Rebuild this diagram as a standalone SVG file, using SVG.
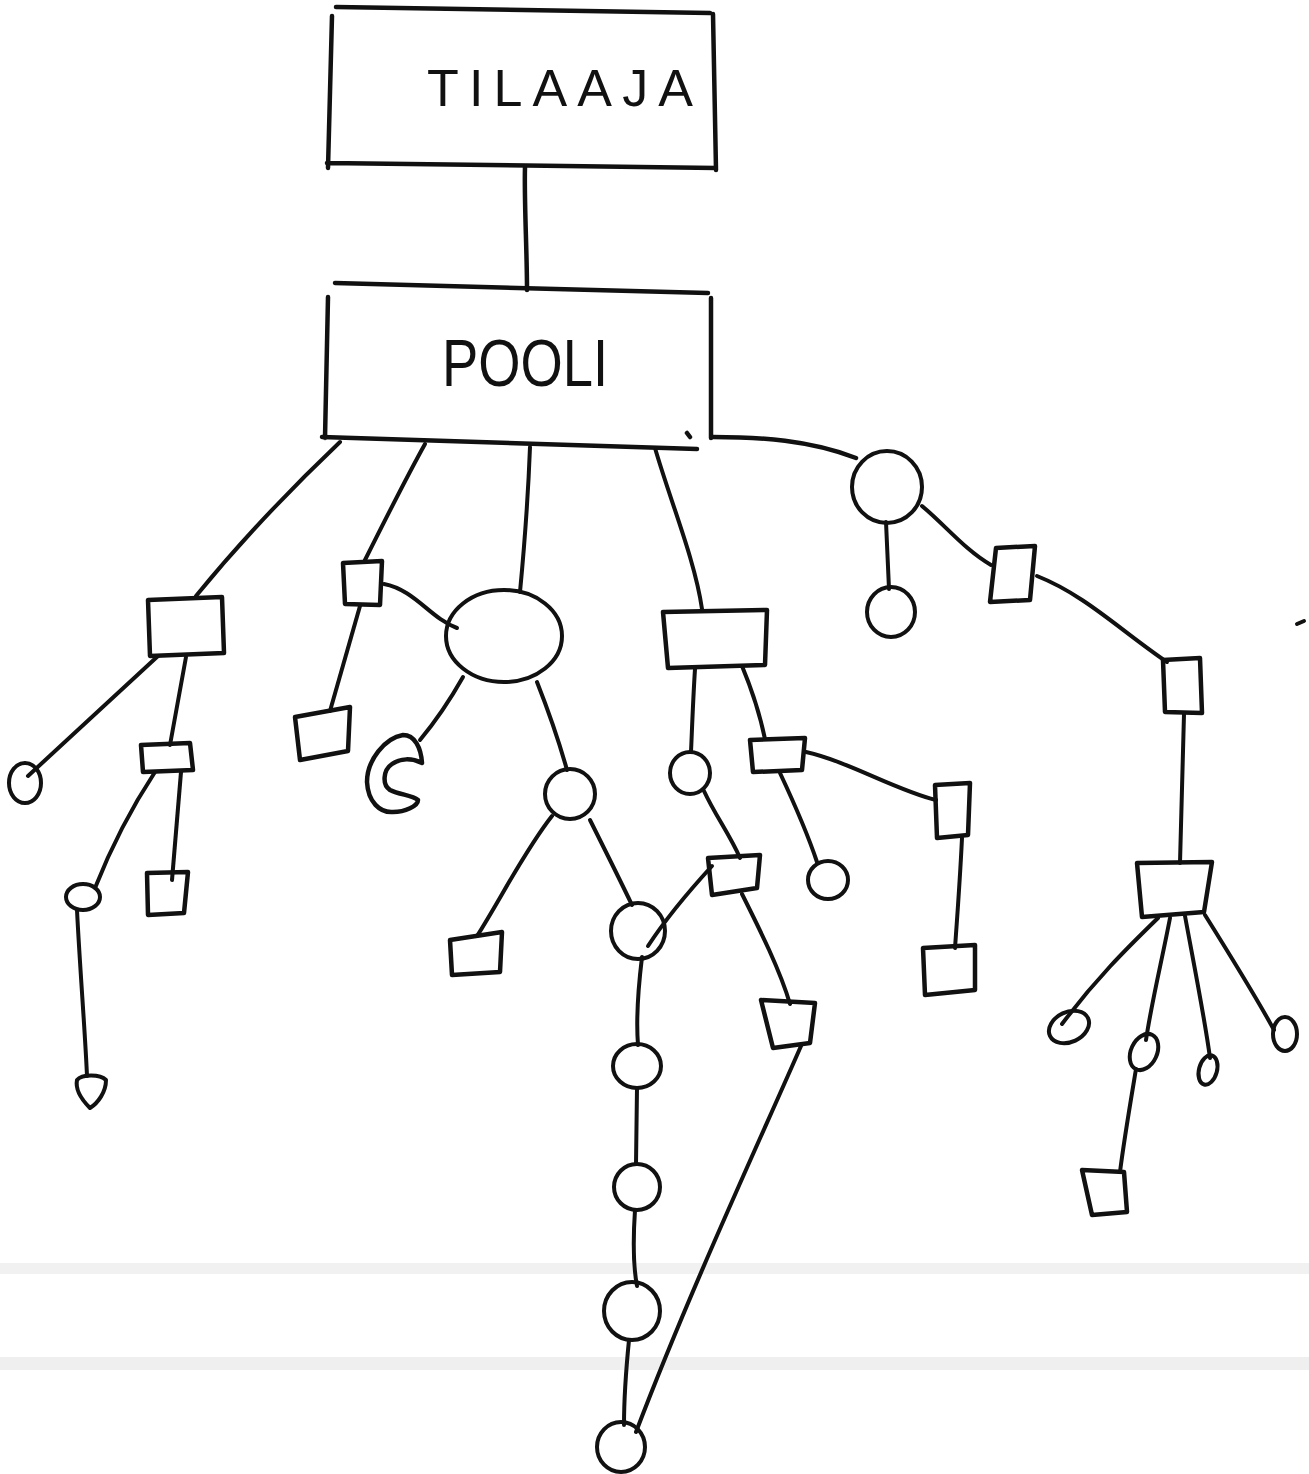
<svg xmlns="http://www.w3.org/2000/svg" width="1309" height="1474" viewBox="0 0 1309 1474">
<style>
.s{fill:none;stroke:#111;stroke-width:4.5;stroke-linecap:round;stroke-linejoin:round}
.t{fill:none;stroke:#111;stroke-width:4;stroke-linecap:round;stroke-linejoin:round}
.lbl{font-family:"Liberation Sans",Arial,sans-serif;fill:#111}
</style>
<rect x="0" y="0" width="1309" height="1474" fill="#fff"/>
<rect x="0" y="1263" width="1309" height="11" fill="#f1f1f1"/>
<rect x="0" y="1357" width="1309" height="13" fill="#efefef"/>
<g id="connectors">
<path class="s" d="M525 167 C524 200 527 250 527 290"/>
<path class="s" d="M713 437 C760 437 810 440 856 458"/>
<path class="t" d="M340 442 C300 480 250 530 196 596"/>
<path class="t" d="M425 444 C405 480 385 520 365 560"/>
<path class="t" d="M530 447 C528 500 524 550 520 592"/>
<path class="t" d="M655 448 C670 500 695 560 702 609"/>
<path class="t" d="M158 656 L28 776"/>
<path class="t" d="M186 657 L170 745"/>
<path class="t" d="M155 772 C130 810 110 850 95 888"/>
<path class="t" d="M181 772 L172 880"/>
<path class="t" d="M77 910 C80 970 85 1030 87 1076"/>
<path class="t" d="M360 606 L330 711"/>
<path class="t" d="M384 584 C415 590 430 618 457 628"/>
<path class="t" d="M463 677 C450 700 435 722 420 740"/>
<path class="t" d="M537 682 C550 715 560 745 567 770"/>
<path class="t" d="M552 816 C525 850 500 900 477 936"/>
<path class="t" d="M590 820 C605 850 620 880 632 905"/>
<path class="t" d="M648 946 C665 920 690 890 712 866"/>
<path class="t" d="M642 957 C638 990 636 1020 638 1045"/>
<path class="t" d="M637 1088 L636 1164"/>
<path class="t" d="M635 1210 C633 1240 633 1265 637 1286"/>
<path class="t" d="M629 1340 C626 1370 624 1400 624 1425"/>
<path class="t" d="M801 1046 C760 1140 690 1290 636 1432"/>
<path class="t" d="M695 669 C693 700 692 730 691 752"/>
<path class="t" d="M742 666 C752 690 760 715 765 739"/>
<path class="t" d="M704 791 C715 815 730 835 740 858"/>
<path class="t" d="M742 894 C760 930 780 970 790 1004"/>
<path class="t" d="M780 773 C795 805 808 835 817 862"/>
<path class="t" d="M806 752 C850 762 895 790 936 800"/>
<path class="t" d="M962 838 C960 880 957 920 955 948"/>
<path class="t" d="M886 522 L889 589"/>
<path class="t" d="M922 506 C945 525 965 550 991 565"/>
<path class="t" d="M1037 576 C1085 595 1120 630 1167 662"/>
<path class="t" d="M1184 714 L1180 863"/>
<path class="t" d="M1158 918 C1125 950 1095 980 1062 1024"/>
<path class="t" d="M1170 918 C1162 960 1152 1000 1146 1040"/>
<path class="t" d="M1185 916 C1195 970 1205 1020 1210 1058"/>
<path class="t" d="M1205 915 C1230 955 1255 995 1274 1030"/>
<path class="t" d="M1136 1069 C1130 1105 1124 1140 1120 1172"/>
</g>
<g id="tilaaja">
<path class="s" d="M336 7 L710 13 M332 16 L328 168 M713 14 L716 170 M327 163 L716 168"/>
<text class="lbl" x="427" y="106" font-size="52" textLength="266" lengthAdjust="spacing">TILAAJA</text>
</g>
<g id="pooli">
<path class="s" d="M335 283 L708 293 M328 297 L325 438 M711 298 L711 438 M322 437 L697 449 M687 433 L690 437"/>
<text class="lbl" x="442" y="386" font-size="66" textLength="166" lengthAdjust="spacingAndGlyphs">POOLI</text>
</g>
<g id="a"><path class="s" d="M148 600 L222 597 L224 653 L150 656 Z"/></g>
<g id="a1"><ellipse class="t" cx="25" cy="783" rx="16" ry="20"/></g>
<g id="a2"><path class="s" d="M141 745 L190 743 L193 770 L143 772 Z"/></g>
<g id="a3"><ellipse class="t" cx="83" cy="897" rx="17" ry="13"/></g>
<g id="a4"><path class="s" d="M147 873 L188 872 L184 913 L148 915 Z"/></g>
<g id="a5"><path class="t" d="M77 1080 C82 1074 100 1074 106 1080 C106 1092 98 1103 90 1108 C82 1100 75 1090 77 1080 Z"/></g>
<g id="b"><path class="s" d="M343 563 L382 561 L380 605 L345 604 Z"/></g>
<g id="b1"><path class="s" d="M295 717 L350 707 L348 751 L300 760 Z"/></g>
<g id="c"><ellipse class="t" cx="504" cy="636" rx="58" ry="46"/></g>
<g id="c1"><path class="s" d="M422 763 C421 748 415 735 403 735 C385 738 367 760 367 782 C368 802 380 813 393 812 C405 812 418 806 418 800 C412 795 400 795 390 790 C382 785 383 770 392 764 C400 758 412 758 422 763 Z"/></g>
<g id="c2"><ellipse class="t" cx="570" cy="794" rx="25" ry="25"/></g>
<g id="c3"><path class="s" d="M450 940 L502 932 L500 972 L452 975 Z"/></g>
<g id="c4"><ellipse class="t" cx="638" cy="931" rx="27" ry="28"/></g>
<g id="c5"><ellipse class="t" cx="637" cy="1066" rx="24" ry="22"/></g>
<g id="c6"><ellipse class="t" cx="637" cy="1187" rx="23" ry="23"/></g>
<g id="c7"><ellipse class="t" cx="632" cy="1311" rx="28" ry="29"/></g>
<g id="c8"><ellipse class="t" cx="621" cy="1447" rx="24" ry="25"/></g>
<g id="d"><path class="s" d="M663 612 L767 610 L765 665 L668 668 Z"/></g>
<g id="d1"><ellipse class="t" cx="690" cy="773" rx="20" ry="21"/></g>
<g id="d2"><path class="s" d="M750 740 L805 738 L802 770 L753 772 Z"/></g>
<g id="d3"><path class="s" d="M708 858 L760 855 L757 888 L712 895 Z"/></g>
<g id="d4"><path class="s" d="M761 1000 L815 1003 L810 1043 L773 1048 Z"/></g>
<g id="d5"><ellipse class="t" cx="828" cy="880" rx="20" ry="19"/></g>
<g id="d6"><path class="s" d="M935 785 L970 783 L968 835 L937 838 Z"/></g>
<g id="d7"><path class="s" d="M923 948 L975 945 L975 990 L925 995 Z"/></g>
<g id="e"><ellipse class="t" cx="887" cy="487" rx="35" ry="36"/></g>
<g id="e1"><ellipse class="t" cx="891" cy="612" rx="24" ry="25"/></g>
<g id="e2"><path class="s" d="M996 548 L1035 546 L1030 600 L990 602 Z"/></g>
<g id="e3"><path class="s" d="M1163 660 L1200 658 L1202 713 L1165 712 Z"/></g>
<g id="e4"><path class="s" d="M1137 863 L1212 862 L1204 912 L1142 917 Z"/></g>
<g id="e5"><ellipse class="t" cx="1069" cy="1027" rx="21" ry="15" transform="rotate(-25 1069 1027)"/></g>
<g id="e6"><ellipse class="t" cx="1144" cy="1052" rx="13" ry="19" transform="rotate(25 1144 1052)"/></g>
<g id="e7"><ellipse class="t" cx="1208" cy="1070" rx="9" ry="15" transform="rotate(15 1208 1070)"/></g>
<g id="e8"><ellipse class="t" cx="1285" cy="1034" rx="12" ry="17"/></g>
<g id="e9"><path class="s" d="M1082 1170 L1124 1172 L1127 1212 L1092 1215 Z"/></g>
<path class="t" d="M1297 624 L1304 621"/>
</svg>
